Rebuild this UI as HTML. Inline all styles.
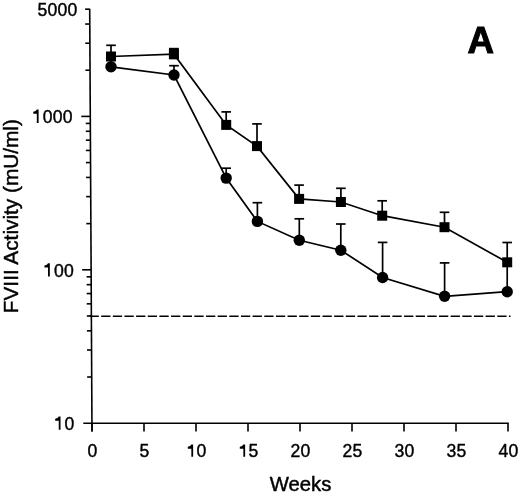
<!DOCTYPE html><html><head><meta charset="utf-8"><style>html,body{margin:0;padding:0;background:#fff;width:520px;height:493px;overflow:hidden}svg{display:block}text{font-family:"Liberation Sans",sans-serif;fill:#000;stroke:#000;stroke-width:0.45px}svg{filter:grayscale(1)}</style></head><body>
<svg width="520" height="493" viewBox="0 0 520 493">
<g stroke="#000" stroke-width="1.6" fill="none" stroke-linecap="butt">
<line x1="89.70" y1="8.7" x2="92" y2="431.6"/>
<line x1="83.3" y1="423.2" x2="508.8" y2="423.2"/>
<line x1="92" y1="423.2" x2="92" y2="431.6"/>
<line x1="144" y1="423.2" x2="144" y2="431.6"/>
<line x1="196" y1="423.2" x2="196" y2="431.6"/>
<line x1="248" y1="423.2" x2="248" y2="431.6"/>
<line x1="300" y1="423.2" x2="300" y2="431.6"/>
<line x1="352" y1="423.2" x2="352" y2="431.6"/>
<line x1="404" y1="423.2" x2="404" y2="431.6"/>
<line x1="456" y1="423.2" x2="456" y2="431.6"/>
<line x1="508" y1="423.2" x2="508" y2="431.6"/>
<line x1="87.14" y1="377.02" x2="91.74" y2="377.02"/>
<line x1="86.99" y1="350.01" x2="91.59" y2="350.01"/>
<line x1="86.89" y1="330.84" x2="91.49" y2="330.84"/>
<line x1="86.81" y1="315.98" x2="91.41" y2="315.98"/>
<line x1="86.74" y1="303.83" x2="91.34" y2="303.83"/>
<line x1="86.68" y1="293.56" x2="91.28" y2="293.56"/>
<line x1="86.63" y1="284.67" x2="91.23" y2="284.67"/>
<line x1="86.59" y1="276.82" x2="91.19" y2="276.82"/>
<line x1="82.15" y1="269.80" x2="91.15" y2="269.80"/>
<line x1="86.29" y1="223.62" x2="90.89" y2="223.62"/>
<line x1="86.14" y1="196.61" x2="90.74" y2="196.61"/>
<line x1="86.04" y1="177.44" x2="90.64" y2="177.44"/>
<line x1="85.95" y1="162.58" x2="90.55" y2="162.58"/>
<line x1="85.89" y1="150.43" x2="90.49" y2="150.43"/>
<line x1="85.83" y1="140.16" x2="90.43" y2="140.16"/>
<line x1="85.78" y1="131.27" x2="90.38" y2="131.27"/>
<line x1="85.74" y1="123.42" x2="90.34" y2="123.42"/>
<line x1="81.30" y1="116.40" x2="90.30" y2="116.40"/>
<line x1="85.44" y1="70.22" x2="90.04" y2="70.22"/>
<line x1="85.29" y1="43.21" x2="89.89" y2="43.21"/>
<line x1="85.19" y1="24.04" x2="89.79" y2="24.04"/>
<line x1="85.10" y1="9.18" x2="89.70" y2="9.18"/>
</g>
<line x1="89.5" y1="316.2" x2="510.5" y2="316.2" stroke="#000" stroke-width="1.6" stroke-dasharray="9.3 2.35"/>
<g stroke="#000" stroke-width="1.7" fill="none">
<polyline points="111,56.5 173.9,54.2 226.2,124.9 257,146.1 299.1,198.9 340.9,202 382.2,215.7 444.5,227.2 507.2,262.3"/>
<polyline points="111,66.8 174,75 226.2,178.1 257.4,221.4 299.3,240.3 340.8,250.2 382.6,277.5 444.6,296.3 507.2,291.7"/>
<line x1="111" y1="56.5" x2="111" y2="45.3"/>
<line x1="106.2" y1="45.3" x2="115.8" y2="45.3"/>
<line x1="226.2" y1="124.9" x2="226.2" y2="111.9"/>
<line x1="221.4" y1="111.9" x2="231.0" y2="111.9"/>
<line x1="257" y1="146.1" x2="257" y2="123.9"/>
<line x1="252.2" y1="123.9" x2="261.8" y2="123.9"/>
<line x1="299.1" y1="198.9" x2="299.1" y2="185.1"/>
<line x1="294.3" y1="185.1" x2="303.9" y2="185.1"/>
<line x1="340.9" y1="202" x2="340.9" y2="188.3"/>
<line x1="336.1" y1="188.3" x2="345.7" y2="188.3"/>
<line x1="382.2" y1="215.7" x2="382.2" y2="200.8"/>
<line x1="377.4" y1="200.8" x2="387.0" y2="200.8"/>
<line x1="444.5" y1="227.2" x2="444.5" y2="212.3"/>
<line x1="439.7" y1="212.3" x2="449.3" y2="212.3"/>
<line x1="507.2" y1="262.3" x2="507.2" y2="242.5"/>
<line x1="502.4" y1="242.5" x2="512.0" y2="242.5"/>
<line x1="174" y1="75" x2="174" y2="65.7"/>
<line x1="169.2" y1="65.7" x2="178.8" y2="65.7"/>
<line x1="226.2" y1="178.1" x2="226.2" y2="168.2"/>
<line x1="221.4" y1="168.2" x2="231.0" y2="168.2"/>
<line x1="257.4" y1="221.4" x2="257.4" y2="202.7"/>
<line x1="252.6" y1="202.7" x2="262.2" y2="202.7"/>
<line x1="299.3" y1="240.3" x2="299.3" y2="218.8"/>
<line x1="294.5" y1="218.8" x2="304.1" y2="218.8"/>
<line x1="340.8" y1="250.2" x2="340.8" y2="224"/>
<line x1="336.0" y1="224" x2="345.6" y2="224"/>
<line x1="382.6" y1="277.5" x2="382.6" y2="242.4"/>
<line x1="377.8" y1="242.4" x2="387.4" y2="242.4"/>
<line x1="444.6" y1="296.3" x2="444.6" y2="262.9"/>
<line x1="439.8" y1="262.9" x2="449.4" y2="262.9"/>
<line x1="507.2" y1="291.7" x2="507.2" y2="262.3"/>
</g>
<g fill="#000">
<rect x="106.0" y="51.5" width="10" height="10"/>
<rect x="168.9" y="49.2" width="10" height="10"/>
<rect x="221.2" y="119.9" width="10" height="10"/>
<rect x="252.0" y="141.1" width="10" height="10"/>
<rect x="294.1" y="193.9" width="10" height="10"/>
<rect x="335.9" y="197.0" width="10" height="10"/>
<rect x="377.2" y="210.7" width="10" height="10"/>
<rect x="439.5" y="222.2" width="10" height="10"/>
<rect x="502.2" y="257.3" width="10" height="10"/>
<rect x="169" y="47.8" width="9.8" height="11.4"/>
<circle cx="111" cy="66.8" r="5.7"/>
<circle cx="174" cy="75" r="5.7"/>
<circle cx="226.2" cy="178.1" r="5.7"/>
<circle cx="257.4" cy="221.4" r="5.7"/>
<circle cx="299.3" cy="240.3" r="5.7"/>
<circle cx="340.8" cy="250.2" r="5.7"/>
<circle cx="382.6" cy="277.5" r="5.7"/>
<circle cx="444.6" cy="296.3" r="5.7"/>
<circle cx="507.2" cy="291.7" r="5.7"/>
</g>
<text x="37.58" y="16.1" font-size="17.6" style="stroke-width:0.4px">5</text>
<text x="47.59" y="16.1" font-size="17.6" style="stroke-width:0.4px">0</text>
<text x="57.59" y="16.1" font-size="17.6" style="stroke-width:0.4px">0</text>
<text x="67.60" y="16.1" font-size="17.6" style="stroke-width:0.4px">0</text>
<path d="M36.82,109.50H38.62V122.90H36.82V113.80H33.27V111.80Q36.22,111.40 36.82,109.50Z" fill="#000"/>
<text x="42.69" y="122.9" font-size="17.6" style="stroke-width:0.4px">0</text>
<text x="52.69" y="122.9" font-size="17.6" style="stroke-width:0.4px">0</text>
<text x="62.70" y="122.9" font-size="17.6" style="stroke-width:0.4px">0</text>
<path d="M48.03,263.20H49.83V276.60H48.03V267.50H44.48V265.50Q47.43,265.10 48.03,263.20Z" fill="#000"/>
<text x="53.89" y="276.6" font-size="17.6" style="stroke-width:0.4px">0</text>
<text x="63.90" y="276.6" font-size="17.6" style="stroke-width:0.4px">0</text>
<path d="M58.73,416.40H60.53V429.80H58.73V420.70H55.18V418.70Q58.13,418.30 58.73,416.40Z" fill="#000"/>
<text x="64.60" y="429.8" font-size="17.6" style="stroke-width:0.4px">0</text>
<text x="87.61" y="457.25" font-size="17.6" style="stroke-width:0.4px">0</text>
<text x="139.61" y="457.25" font-size="17.6" style="stroke-width:0.4px">5</text>
<path d="M191.34,444.50H193.14V456.75H191.34V448.80H187.79V446.80Q190.74,446.40 191.34,444.50Z" fill="#000"/>
<text x="196.61" y="457.25" font-size="17.6" style="stroke-width:0.4px">0</text>
<path d="M243.34,444.50H245.14V456.75H243.34V448.80H239.79V446.80Q242.74,446.40 243.34,444.50Z" fill="#000"/>
<text x="248.61" y="457.25" font-size="17.6" style="stroke-width:0.4px">5</text>
<text x="290.60" y="457.25" font-size="17.6" style="stroke-width:0.4px">2</text>
<text x="300.61" y="457.25" font-size="17.6" style="stroke-width:0.4px">0</text>
<text x="342.60" y="457.25" font-size="17.6" style="stroke-width:0.4px">2</text>
<text x="352.61" y="457.25" font-size="17.6" style="stroke-width:0.4px">5</text>
<text x="394.60" y="457.25" font-size="17.6" style="stroke-width:0.4px">3</text>
<text x="404.61" y="457.25" font-size="17.6" style="stroke-width:0.4px">0</text>
<text x="446.60" y="457.25" font-size="17.6" style="stroke-width:0.4px">3</text>
<text x="456.61" y="457.25" font-size="17.6" style="stroke-width:0.4px">5</text>
<text x="498.60" y="457.25" font-size="17.6" style="stroke-width:0.4px">4</text>
<text x="508.61" y="457.25" font-size="17.6" style="stroke-width:0.4px">0</text>
<text x="300.6" y="490.8" font-size="20.3" text-anchor="middle">Weeks</text>
<text transform="translate(18.1,313.2) rotate(-90)" font-size="20.8">FVIII Activity (mU/ml)</text>
<text x="467.6" y="52.95" font-size="36.7" font-weight="bold" style="stroke-width:1px">A</text>
</svg></body></html>
